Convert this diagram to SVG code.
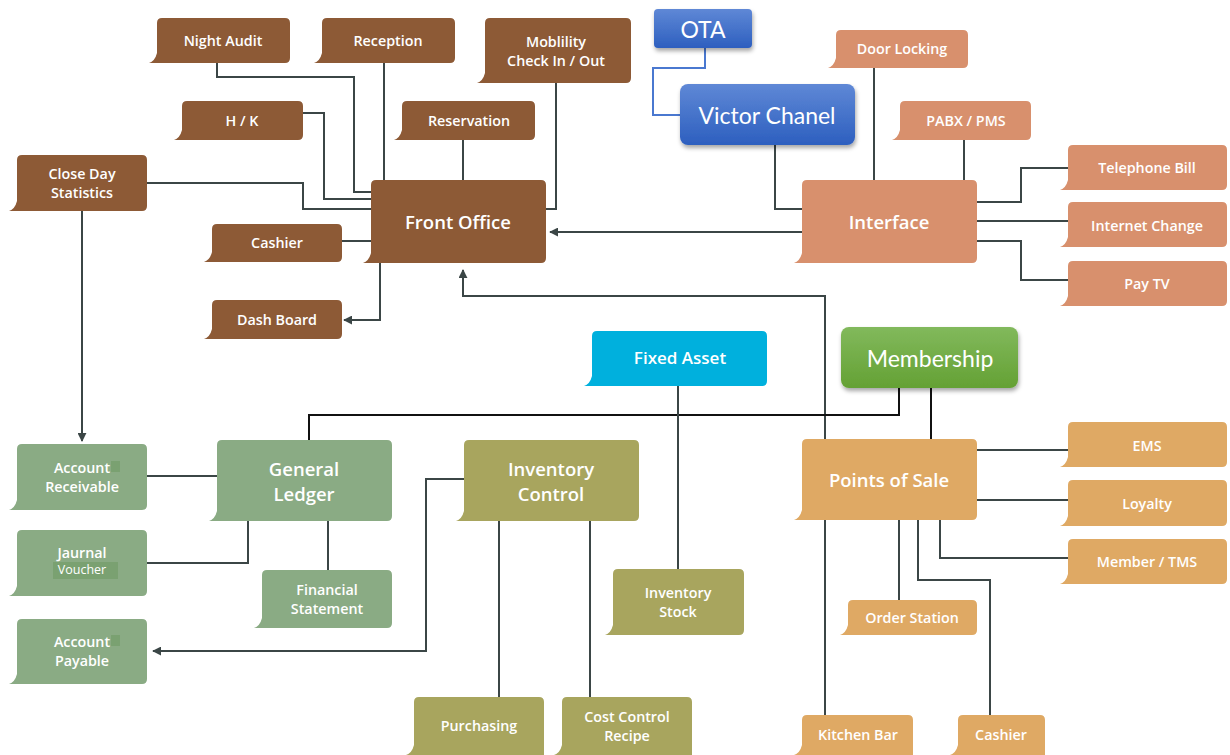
<svg xmlns="http://www.w3.org/2000/svg" width="1230" height="755" viewBox="0 0 1230 755">
<defs>
<linearGradient id="gBlue" x1="0" y1="0" x2="0" y2="1"><stop offset="0" stop-color="#5f88d6"/><stop offset="1" stop-color="#2d5fbf"/></linearGradient>
<linearGradient id="gGreen" x1="0" y1="0" x2="0" y2="1"><stop offset="0" stop-color="#82b95c"/><stop offset="1" stop-color="#64a134"/></linearGradient>
<filter id="sh" x="-10%" y="-10%" width="125%" height="140%"><feDropShadow dx="1" dy="3" stdDeviation="2" flood-color="#000" flood-opacity="0.35"/></filter>
<marker id="arr" viewBox="0 0 10 10" refX="9" refY="5" markerWidth="9" markerHeight="9" markerUnits="userSpaceOnUse" orient="auto"><path d="M0,0 L10,5 L0,10 Z" fill="#3b4646"/></marker>
</defs>
<style>
.brown{fill:#8d5a36}
.salmon{fill:#d8906d}
.sage{fill:#8aab84}
.olive{fill:#a8a55e}
.orange{fill:#dfa964}
.cyan{fill:#00b0dd}
.t{font-family:"Open Sans","Liberation Sans",sans-serif;font-weight:600;font-size:14.3px;fill:#fff;text-anchor:middle;dominant-baseline:central}
.tl{font-family:"Open Sans","Liberation Sans",sans-serif;font-weight:600;font-size:18.5px;fill:#fff;text-anchor:middle;dominant-baseline:central}
.tc{font-family:Lato,"Liberation Sans",sans-serif;font-size:23px;fill:#fff;text-anchor:middle;dominant-baseline:central}
.c{fill:none;stroke:#3b4646;stroke-width:2}
.k{fill:none;stroke:#111;stroke-width:2}
.b{fill:none;stroke:#4a78d0;stroke-width:2}
</style>
<g id="connectors">
<path class="c" d="M217,63 V77 H354 V192 H371"/>
<path class="c" d="M384,63 V180"/>
<path class="c" d="M556,83 V209 H546"/>
<path class="c" d="M303,113 H324 V199 H371"/>
<path class="c" d="M463,140 V180"/>
<path class="c" d="M147,183 H303 V209 H371"/>
<path class="c" d="M342,241 H371"/>
<path class="c" d="M380,263 V320 H344" marker-end="url(#arr)"/>
<path class="c" d="M82,211 V441" marker-end="url(#arr)"/>
<path class="c" d="M802,232 H550" marker-end="url(#arr)"/>
<path class="c" d="M775,145 V209 H802"/>
<path class="b" d="M705,48 V68 H653 V115 H680"/>
<path class="c" d="M874,68 V180"/>
<path class="c" d="M964,140 V180"/>
<path class="c" d="M977,202 H1021 V168 H1068"/>
<path class="c" d="M977,221 H1068"/>
<path class="c" d="M977,241 H1021 V280 H1068"/>
<path class="c" d="M825,439 V296 H463 V270" marker-end="url(#arr)"/>
<path class="k" d="M899,388 V415 H309 V440"/>
<path class="k" d="M931,388 V439"/>
<path class="c" d="M678,386 V569"/>
<path class="c" d="M217,476 H147"/>
<path class="c" d="M248,521 V563 H147"/>
<path class="c" d="M328,521 V570"/>
<path class="c" d="M464,479 H426 V651 H153" marker-end="url(#arr)"/>
<path class="c" d="M499,521 V697"/>
<path class="c" d="M590,521 V697"/>
<path class="c" d="M977,450 H1068"/>
<path class="c" d="M977,500 H1068"/>
<path class="c" d="M940,520 V558 H1068"/>
<path class="c" d="M899,520 V600"/>
<path class="c" d="M918,520 V580 H990 V715"/>
<path class="c" d="M825,520 V715"/>
</g>
<g id="night-audit"><path class="brown" d="M162,18 H285 Q290,18 290,23 V58 Q290,63 285,63 H149 Q155,61 157,53 V23 Q157,18 162,18 Z"/><text class="t" x="223" y="40">Night Audit</text></g>
<g id="reception"><path class="brown" d="M327,18 H450 Q455,18 455,23 V58 Q455,63 450,63 H314 Q320,61 322,53 V23 Q322,18 327,18 Z"/><text class="t" x="388" y="40">Reception</text></g>
<g id="mobility"><path class="brown" d="M490,18 H626 Q631,18 631,23 V78 Q631,83 626,83 H477 Q483,81 485,73 V23 Q485,18 490,18 Z"/><text class="t" x="556" y="41">Moblility</text><text class="t" x="556" y="60">Check In / Out</text></g>
<g id="hk"><path class="brown" d="M187,101 H298 Q303,101 303,106 V135 Q303,140 298,140 H174 Q180,138 182,130 V106 Q182,101 187,101 Z"/><text class="t" x="242" y="120">H / K</text></g>
<g id="reservation"><path class="brown" d="M407,101 H530 Q535,101 535,106 V135 Q535,140 530,140 H394 Q400,138 402,130 V106 Q402,101 407,101 Z"/><text class="t" x="469" y="120">Reservation</text></g>
<g id="close-day"><path class="brown" d="M22,155 H142 Q147,155 147,160 V206 Q147,211 142,211 H9 Q15,209 17,201 V160 Q17,155 22,155 Z"/><text class="t" x="82" y="173">Close Day</text><text class="t" x="82" y="192">Statistics</text></g>
<g id="front-office"><path class="brown" d="M376,180 H541 Q546,180 546,185 V258 Q546,263 541,263 H363 Q369,261 371,253 V185 Q371,180 376,180 Z"/><text class="tl" x="458" y="221">Front Office</text></g>
<g id="cashier-fo"><path class="brown" d="M217,224 H337 Q342,224 342,229 V257 Q342,262 337,262 H204 Q210,260 212,252 V229 Q212,224 217,224 Z"/><text class="t" x="277" y="242">Cashier</text></g>
<g id="dash-board"><path class="brown" d="M217,300 H337 Q342,300 342,305 V334 Q342,339 337,339 H204 Q210,337 212,329 V305 Q212,300 217,300 Z"/><text class="t" x="277" y="319">Dash Board</text></g>
<g id="ota"><rect x="654" y="9" width="98" height="39" rx="4" fill="url(#gBlue)" filter="url(#sh)"/><text class="tc" x="703" y="29">OTA</text></g>
<g id="victor-chanel"><rect x="680" y="84" width="175" height="61" rx="8" fill="url(#gBlue)" filter="url(#sh)"/><text class="tc" x="767" y="115">Victor Chanel</text></g>
<g id="door-locking"><path class="salmon" d="M841,30 H963 Q968,30 968,35 V63 Q968,68 963,68 H828 Q834,66 836,58 V35 Q836,30 841,30 Z"/><text class="t" x="902" y="48">Door Locking</text></g>
<g id="pabx"><path class="salmon" d="M905,101 H1026 Q1031,101 1031,106 V135 Q1031,140 1026,140 H892 Q898,138 900,130 V106 Q900,101 905,101 Z"/><text class="t" x="966" y="120">PABX / PMS</text></g>
<g id="interface"><path class="salmon" d="M807,180 H972 Q977,180 977,185 V258 Q977,263 972,263 H794 Q800,261 802,253 V185 Q802,180 807,180 Z"/><text class="tl" x="889" y="221">Interface</text></g>
<g id="telephone-bill"><path class="salmon" d="M1073,145 H1222 Q1227,145 1227,150 V185 Q1227,190 1222,190 H1060 Q1066,188 1068,180 V150 Q1068,145 1073,145 Z"/><text class="t" x="1147" y="167">Telephone Bill</text></g>
<g id="internet-change"><path class="salmon" d="M1073,202 H1222 Q1227,202 1227,207 V242 Q1227,247 1222,247 H1060 Q1066,245 1068,237 V207 Q1068,202 1073,202 Z"/><text class="t" x="1147" y="225">Internet Change</text></g>
<g id="pay-tv"><path class="salmon" d="M1073,261 H1222 Q1227,261 1227,266 V301 Q1227,306 1222,306 H1060 Q1066,304 1068,296 V266 Q1068,261 1073,261 Z"/><text class="t" x="1147" y="283">Pay TV</text></g>
<g id="fixed-asset"><path class="cyan" d="M597,331 H762 Q767,331 767,336 V381 Q767,386 762,386 H584 Q590,384 592,376 V336 Q592,331 597,331 Z"/><text class="tl" x="680" y="357" style="font-size:17px">Fixed Asset</text></g>
<g id="membership"><rect x="841" y="327" width="177" height="61" rx="8" fill="url(#gGreen)" filter="url(#sh)"/><text class="tc" x="930" y="358">Membership</text></g>
<g id="general-ledger"><path class="sage" d="M222,440 H387 Q392,440 392,445 V516 Q392,521 387,521 H209 Q215,519 217,511 V445 Q217,440 222,440 Z"/><text class="tl" x="304" y="468">General</text><text class="tl" x="304" y="493">Ledger</text></g>
<g id="inventory-control"><path class="olive" d="M469,440 H634 Q639,440 639,445 V516 Q639,521 634,521 H456 Q462,519 464,511 V445 Q464,440 469,440 Z"/><text class="tl" x="551" y="468">Inventory</text><text class="tl" x="551" y="493">Control</text></g>
<g id="points-of-sale"><path class="orange" d="M807,439 H972 Q977,439 977,444 V515 Q977,520 972,520 H794 Q800,518 802,510 V444 Q802,439 807,439 Z"/><text class="tl" x="889" y="479">Points of Sale</text></g>
<g id="ems"><path class="orange" d="M1073,422 H1222 Q1227,422 1227,427 V462 Q1227,467 1222,467 H1060 Q1066,465 1068,457 V427 Q1068,422 1073,422 Z"/><text class="t" x="1147" y="445">EMS</text></g>
<g id="loyalty"><path class="orange" d="M1073,480 H1222 Q1227,480 1227,485 V521 Q1227,526 1222,526 H1060 Q1066,524 1068,516 V485 Q1068,480 1073,480 Z"/><text class="t" x="1147" y="503">Loyalty</text></g>
<g id="member-tms"><path class="orange" d="M1073,539 H1222 Q1227,539 1227,544 V579 Q1227,584 1222,584 H1060 Q1066,582 1068,574 V544 Q1068,539 1073,539 Z"/><text class="t" x="1147" y="561">Member / TMS</text></g>
<g id="account-receivable"><path class="sage" d="M22,444 H142 Q147,444 147,449 V505 Q147,510 142,510 H9 Q15,508 17,500 V449 Q17,444 22,444 Z"/><rect x="111" y="461" width="9" height="11" fill="#7aa171"/><text class="t" x="82" y="467">Account</text><text class="t" x="82" y="486">Receivable</text></g>
<g id="jaurnal-voucher"><path class="sage" d="M22,530 H142 Q147,530 147,535 V591 Q147,596 142,596 H9 Q15,594 17,586 V535 Q17,530 22,530 Z"/><rect x="53" y="562" width="65" height="17" fill="#7aa171"/><text class="t" x="82" y="552">Jaurnal</text><text class="t" x="82" y="569" style="font-weight:400;font-size:12.5px">Voucher</text></g>
<g id="account-payable"><path class="sage" d="M22,619 H142 Q147,619 147,624 V679 Q147,684 142,684 H9 Q15,682 17,674 V624 Q17,619 22,619 Z"/><rect x="111" y="635" width="9" height="11" fill="#7aa171"/><text class="t" x="82" y="641">Account</text><text class="t" x="82" y="660">Payable</text></g>
<g id="financial-statement"><path class="sage" d="M267,570 H387 Q392,570 392,575 V623 Q392,628 387,628 H254 Q260,626 262,618 V575 Q262,570 267,570 Z"/><text class="t" x="327" y="589">Financial</text><text class="t" x="327" y="608">Statement</text></g>
<g id="inventory-stock"><path class="olive" d="M618,569 H739 Q744,569 744,574 V630 Q744,635 739,635 H605 Q611,633 613,625 V574 Q613,569 618,569 Z"/><text class="t" x="678" y="592">Inventory</text><text class="t" x="678" y="611">Stock</text></g>
<g id="purchasing"><path class="olive" d="M419,697 H539 Q544,697 544,702 V755 H406 Q412,753 414,745 V702 Q414,697 419,697 Z"/><text class="t" x="479" y="725">Purchasing</text></g>
<g id="cost-control"><path class="olive" d="M567,697 H687 Q692,697 692,702 V755 H554 Q560,753 562,745 V702 Q562,697 567,697 Z"/><text class="t" x="627" y="716">Cost Control</text><text class="t" x="627" y="735">Recipe</text></g>
<g id="order-station"><path class="orange" d="M853,600 H972 Q977,600 977,605 V630 Q977,635 972,635 H840 Q846,633 848,625 V605 Q848,600 853,600 Z"/><text class="t" x="912" y="617">Order Station</text></g>
<g id="kitchen-bar"><path class="orange" d="M807,715 H908 Q913,715 913,720 V755 H794 Q800,753 802,745 V720 Q802,715 807,715 Z"/><text class="t" x="858" y="734">Kitchen Bar</text></g>
<g id="cashier-pos"><path class="orange" d="M963,715 H1040 Q1045,715 1045,720 V755 H950 Q956,753 958,745 V720 Q958,715 963,715 Z"/><text class="t" x="1001" y="734">Cashier</text></g>
</svg>
